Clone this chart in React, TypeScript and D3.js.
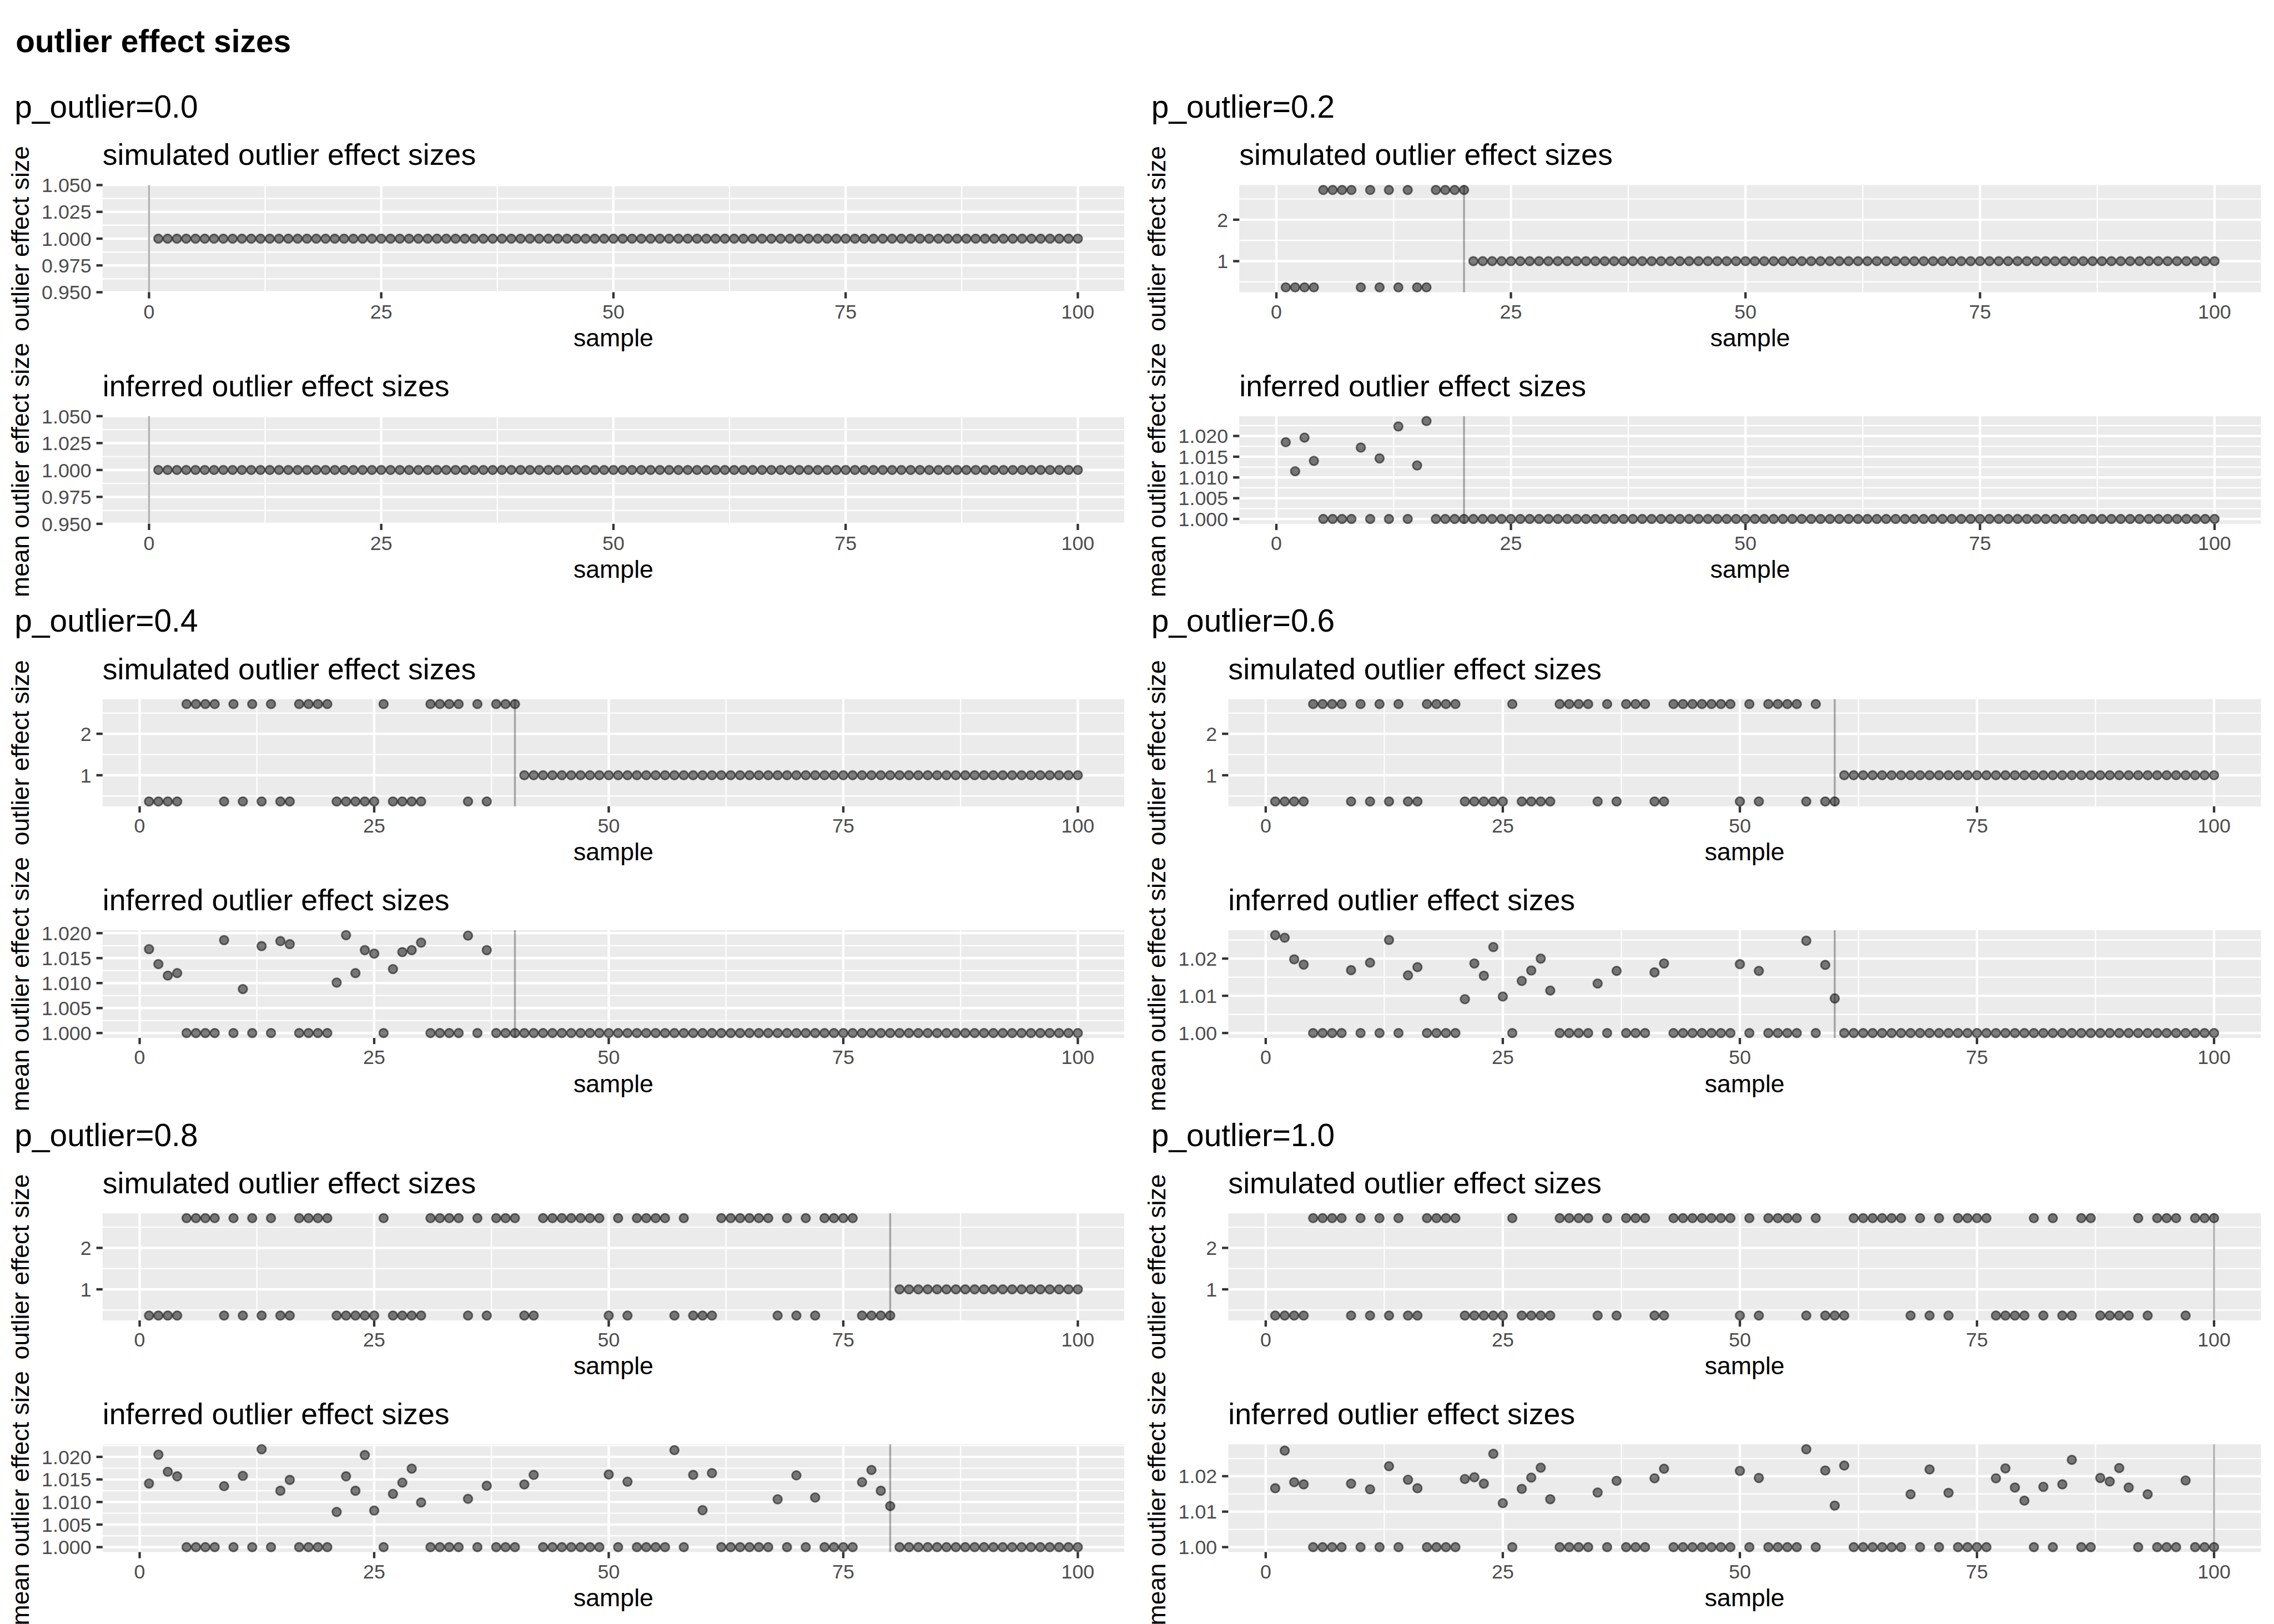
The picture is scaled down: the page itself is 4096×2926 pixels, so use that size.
import React from 'react';
import * as d3 from 'd3';

// ---------------- data ----------------
const pOutliers = [0.0, 0.2, 0.4, 0.6, 0.8, 1.0];
const pLabels = ['p_outlier=0.0', 'p_outlier=0.2', 'p_outlier=0.4', 'p_outlier=0.6', 'p_outlier=0.8', 'p_outlier=1.0'];
const samples = d3.range(1, 101);

const HI = 2.718;
const LO = 0.368;
// simulated effect size of each sample when it is an outlier (samples 1..100)
const outlierEffect = [
  LO, LO, LO, LO, HI, HI, HI, HI, LO, HI,
  LO, HI, LO, HI, LO, LO, HI, HI, HI, HI,
  LO, LO, LO, LO, LO, HI, LO, LO, LO, LO,
  HI, HI, HI, HI, LO, HI, LO, HI, HI, HI,
  LO, LO, HI, HI, HI, HI, HI, HI, HI, LO,
  HI, LO, HI, HI, HI, HI, LO, HI, LO, LO,
  LO, HI, HI, HI, HI, HI, HI, LO, HI, LO,
  HI, LO, HI, HI, HI, HI, LO, LO, LO, LO,
  HI, LO, HI, LO, LO, HI, HI, LO, LO, LO,
  LO, HI, LO, HI, HI, HI, LO, HI, HI, HI,
];

// inferred mean effect sizes of the low-effect outliers, in sample order (others are 1.000)
const inferredP00: number[] = [];
const inferredP02 = [1.0185, 1.0115, 1.0196, 1.0140, 1.0172, 1.0146, 1.0223, 1.0129, 1.0236];
const inferredP04 = [1.0168, 1.0138, 1.0115, 1.0120, 1.0186, 1.0088, 1.0174, 1.0184, 1.0178, 1.0101,
  1.0196, 1.0120, 1.0166, 1.0159, 1.0128, 1.0162, 1.0166, 1.0181, 1.0195, 1.0166];
const inferredP06 = [1.0263, 1.0256, 1.0198, 1.0184, 1.0169, 1.0189, 1.0250, 1.0155, 1.0177, 1.0091,
  1.0187, 1.0154, 1.0231, 1.0098, 1.0140, 1.0168, 1.0200, 1.0114, 1.0133, 1.0167,
  1.0163, 1.0187, 1.0185, 1.0167, 1.0248, 1.0183, 1.0093];
const inferredP08 = [1.0141, 1.0205, 1.0167, 1.0157, 1.0135, 1.0158, 1.0217, 1.0125, 1.0149, 1.0078,
  1.0157, 1.0125, 1.0204, 1.0081, 1.0118, 1.0143, 1.0174, 1.0099, 1.0107, 1.0136,
  1.0139, 1.0160, 1.0161, 1.0145, 1.0215, 1.0160, 1.0082, 1.0164, 1.0106, 1.0159,
  1.0110, 1.0144, 1.0171, 1.0125, 1.0091];
const inferredP10 = [1.0166, 1.0272, 1.0183, 1.0177, 1.0179, 1.0163, 1.0228, 1.0190, 1.0166, 1.0192,
  1.0197, 1.0179, 1.0263, 1.0124, 1.0164, 1.0196, 1.0224, 1.0135, 1.0154, 1.0187,
  1.0194, 1.0221, 1.0215, 1.0195, 1.0276, 1.0216, 1.0117, 1.0230, 1.0149, 1.0219,
  1.0153, 1.0194, 1.0222, 1.0168, 1.0131, 1.0170, 1.0177, 1.0246, 1.0195, 1.0185,
  1.0223, 1.0168, 1.0149, 1.0188];
const inferredLow = [inferredP00, inferredP02, inferredP04, inferredP06, inferredP08, inferredP10];

// tick labels
const xTicks = [0, 25, 50, 75, 100];
const flatTicks = [0.95, 0.975, 1.0, 1.025, 1.05];
const simTicks = [1, 2];
const fineTicks = [1.0, 1.005, 1.01, 1.015, 1.02];
const coarseTicks = [1.0, 1.01, 1.02];
const simTickSets = [flatTicks, simTicks, simTicks, simTicks, simTicks, simTicks];
const simTickFormats = ['.3f', 'd', 'd', 'd', 'd', 'd'];
const infTickSets = [flatTicks, fineTicks, fineTicks, coarseTicks, fineTicks, coarseTicks];
const infTickFormats = ['.3f', '.3f', '.3f', '.2f', '.3f', '.2f'];

// ---------------- styling ----------------
const FONT = "'Liberation Sans', Arial, Helvetica, sans-serif";
const TICK_FS = 36.7;
const AXIS_FS = 45.8;
const TITLE_FS = 55;
const BIG_FS = 58.3;
const MAJOR_W = 4.44;
const MINOR_W = 2.22;
const TICK_LEN = 11.5;

const charW: Record<string, number> = { '.': 0.278, '-': 0.333 };
function labelWidth(s: string) {
  let w = 0;
  for (const c of s) w += charW[c] ?? 0.556;
  return w * TICK_FS;
}

function minorBreaks(major: number[], domain: number[]) {
  const step = major[1] - major[0];
  const b = [major[0] - step, ...major, major[major.length - 1] + step];
  const out: number[] = [];
  for (let i = 0; i < b.length - 1; i++) {
    const m = (b[i] + b[i + 1]) / 2;
    if (m > domain[0] && m < domain[1]) out.push(m);
  }
  return out;
}

function yDomainOf(vals: number[]) {
  const [lo, hi] = d3.extent(vals) as [number, number];
  if (hi - lo < 1e-12) return [lo - 0.05, hi + 0.05];
  const pad = 0.05 * (hi - lo);
  return [lo - pad, hi + pad];
}

type PanelProps = {
  left: number; right: number; top: number; bottom: number;
  xDomain: number[]; yDomain: number[];
  yTicks: number[]; yFmt: string; values: number[]; vline: number;
  title: string; keyId: string;
};

function Panel(props: PanelProps) {
  const { left, right, top, bottom, xDomain, yDomain, yTicks, yFmt, values, vline, title, keyId } = props;
  const x = d3.scaleLinear().domain(xDomain).range([left, right]);
  const y = d3.scaleLinear().domain(yDomain).range([bottom, top]);
  const fmt = d3.format(yFmt);
  const xMinor = minorBreaks(xTicks, xDomain);
  const yMinor = minorBreaks(yTicks, yDomain);
  return (
    <g key={keyId}>
      <text x={left} y={top - 37} fontSize={TITLE_FS} fontFamily={FONT} fill="#000">{title}</text>
      <rect x={left} y={top} width={right - left} height={bottom - top} fill="#EBEBEB" />
      {yMinor.map((v, i) => (
        <line key={'ym' + i} x1={left} x2={right} y1={y(v)} y2={y(v)} stroke="#fff" strokeWidth={MINOR_W} />
      ))}
      {xMinor.map((v, i) => (
        <line key={'xm' + i} x1={x(v)} x2={x(v)} y1={top} y2={bottom} stroke="#fff" strokeWidth={MINOR_W} />
      ))}
      {yTicks.map((v, i) => (
        <line key={'yM' + i} x1={left} x2={right} y1={y(v)} y2={y(v)} stroke="#fff" strokeWidth={MAJOR_W} />
      ))}
      {xTicks.map((v, i) => (
        <line key={'xM' + i} x1={x(v)} x2={x(v)} y1={top} y2={bottom} stroke="#fff" strokeWidth={MAJOR_W} />
      ))}
      <line x1={x(vline)} x2={x(vline)} y1={top} y2={bottom} stroke="#000" strokeOpacity={0.3} strokeWidth={3.6} />
      {values.map((v, i) => (
        <circle key={'p' + i} cx={x(samples[i])} cy={y(v)} r={8.1}
          fill="#000" fillOpacity={0.5} stroke="#000" strokeOpacity={0.5} strokeWidth={2.9} />
      ))}
      {yTicks.map((v, i) => (
        <g key={'yt' + i}>
          <line x1={left - TICK_LEN} x2={left} y1={y(v)} y2={y(v)} stroke="#333333" strokeWidth={MAJOR_W} />
          <text x={left - TICK_LEN - 9.2} y={y(v) + 13.1} textAnchor="end" fontSize={TICK_FS}
            fontFamily={FONT} fill="#4D4D4D">{fmt(v)}</text>
        </g>
      ))}
      {xTicks.map((v, i) => (
        <g key={'xt' + i}>
          <line x1={x(v)} x2={x(v)} y1={bottom} y2={bottom + TICK_LEN} stroke="#333333" strokeWidth={MAJOR_W} />
          <text x={x(v)} y={bottom + 48.5} textAnchor="middle" fontSize={TICK_FS}
            fontFamily={FONT} fill="#4D4D4D">{String(v)}</text>
        </g>
      ))}
      <text x={(left + right) / 2} y={bottom + 100} textAnchor="middle" fontSize={AXIS_FS}
        fontFamily={FONT} fill="#000">sample</text>
    </g>
  );
}

export default function App() {
  const blocks = pOutliers.map((p, k) => {
    const col = k % 2;
    const row = Math.floor(k / 2);
    const colX = col * 2100;
    const rowY = 150 + row * 950;
    const cutoff = Math.round(p * 100);

    const simVals = samples.map((s) => (s <= cutoff ? outlierEffect[s - 1] : 1));
    let j = 0;
    const infVals = samples.map((s) =>
      s <= cutoff && outlierEffect[s - 1] < 1 ? inferredLow[k][j++] : 1
    );

    const simFmt = d3.format(simTickFormats[k]);
    const infFmt = d3.format(infTickFormats[k]);
    const maxLab = Math.max(
      ...simTickSets[k].map((t) => labelWidth(simFmt(t))),
      ...infTickSets[k].map((t) => labelWidth(infFmt(t)))
    );
    const left = colX + 77 + maxLab + TICK_LEN + 9.2;
    const right = colX + 2077;
    const xMin = Math.min(1, cutoff);
    const xPad = 0.05 * (100 - xMin);
    const xDomain = [xMin - xPad, 100 + xPad];

    const simTop = rowY + 192, simBottom = rowY + 390;
    const infTop = rowY + 619, infBottom = rowY + 818;

    return (
      <g key={'b' + k}>
        <text x={colX + 27} y={rowY + 67.5} fontSize={BIG_FS} fontFamily={FONT} fill="#000">{pLabels[k]}</text>
        <text transform={`translate(${colX + 53},${(simTop + simBottom) / 2}) rotate(-90)`} textAnchor="middle"
          fontSize={AXIS_FS} fontFamily={FONT} fill="#000">outlier effect size</text>
        <text transform={`translate(${colX + 53},${(infTop + infBottom) / 2}) rotate(-90)`} textAnchor="middle"
          fontSize={AXIS_FS} fontFamily={FONT} fill="#000">mean outlier effect size</text>
        <Panel keyId={'s' + k} left={left} right={right} top={simTop} bottom={simBottom}
          xDomain={xDomain} yDomain={yDomainOf(simVals)} yTicks={simTickSets[k]} yFmt={simTickFormats[k]}
          values={simVals} vline={cutoff} title="simulated outlier effect sizes" />
        <Panel keyId={'i' + k} left={left} right={right} top={infTop} bottom={infBottom}
          xDomain={xDomain} yDomain={yDomainOf(infVals)} yTicks={infTickSets[k]} yFmt={infTickFormats[k]}
          values={infVals} vline={cutoff} title="inferred outlier effect sizes" />
      </g>
    );
  });

  return (
    <svg width={4096} height={2926} viewBox="0 0 4096 2926"
      style={{ position: 'absolute', left: 0, top: 0, background: '#fff' }}>
      <g transform="scale(0.975)">
        <rect x={0} y={0} width={4200} height={3000} fill="#fff" />
        <text x={29} y={96} fontSize={BIG_FS} fontWeight="bold" fontFamily={FONT} fill="#000">outlier effect sizes</text>
        {blocks}
      </g>
    </svg>
  );
}
